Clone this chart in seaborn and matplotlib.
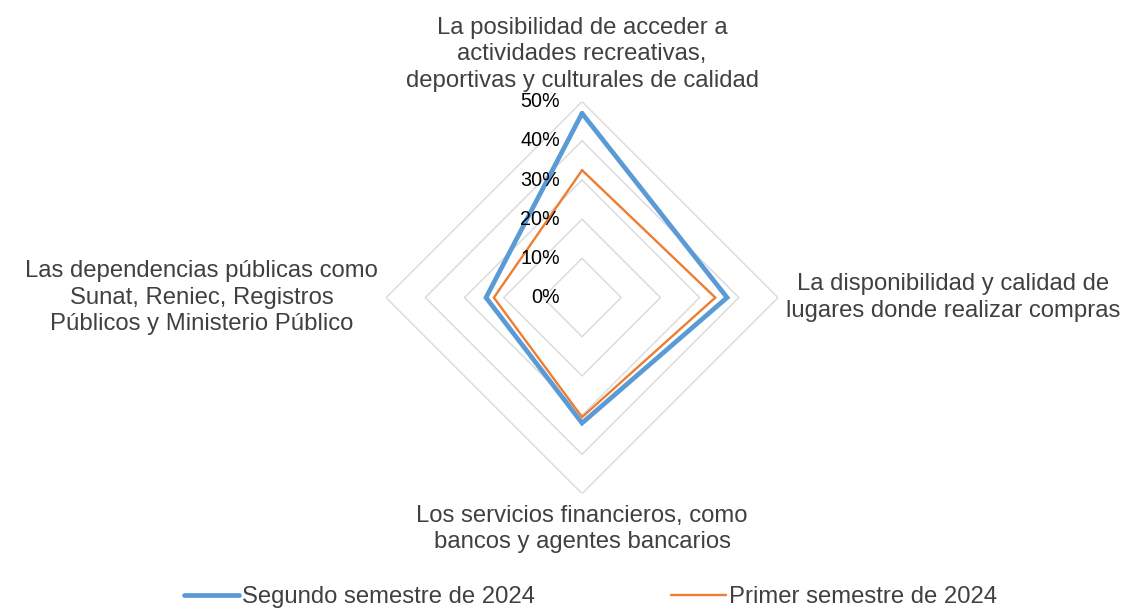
import numpy as np
import pandas as pd
import seaborn as sns
import matplotlib.pyplot as plt
from matplotlib.lines import Line2D
from matplotlib.transforms import offset_copy

categorias = [
    "La posibilidad de acceder a\nactividades recreativas,\ndeportivas y culturales de calidad",
    "La disponibilidad y calidad de\nlugares donde realizar compras",
    "Los servicios financieros, como\nbancos y agentes bancarios",
    "Las dependencias públicas como\nSunat, Reniec, Registros\nPúblicos y Ministerio Público",
]
series = ["Segundo semestre de 2024", "Primer semestre de 2024"]
segundo_2024 = [0.47, 0.37, 0.32, 0.245]
primer_2024 = [0.325, 0.34, 0.305, 0.225]
niveles = [0.0, 0.1, 0.2, 0.3, 0.4, 0.5]
etiquetas_niveles = ["0%", "10%", "20%", "30%", "40%", "50%"]

colores = {series[0]: "#5B9BD5", series[1]: "#ED7D31"}
grosores = {series[0]: 3.4, series[1]: 1.7}

sns.set_theme(style="white")
plt.rcParams['font.family'] = ['Liberation Sans', 'DejaVu Sans']

angulos = np.linspace(0, 2 * np.pi, len(categorias), endpoint=False)
ang_cerrado = np.append(angulos, angulos[0])

filas = []
for nombre, vals in zip(series, [segundo_2024, primer_2024]):
    cerrado = list(vals) + [vals[0]]
    for i, (t, v) in enumerate(zip(ang_cerrado, cerrado)):
        filas.append({"orden": i, "theta": t, "valor": v, "serie": nombre})
df = pd.DataFrame(filas)

fig = plt.figure(figsize=(11.46, 6.12), dpi=100)
ax = fig.add_axes([0.3369, 0.1935, 0.342, 0.6405], projection='polar')
ax.set_theta_zero_location('N')
ax.set_theta_direction(-1)
ax.set_ylim(0, 0.5)
ax.grid(False)
ax.spines['polar'].set_visible(False)
ax.set_xticks([])
ax.set_yticks([])
ax.set_facecolor('none')

# grid as straight polygons
for nv in niveles[1:]:
    ax.plot(ang_cerrado, [nv] * len(ang_cerrado), color='#D9D9D9', lw=1.0, zorder=1)

sns.lineplot(data=df, x='theta', y='valor', hue='serie', size='serie',
             sizes=grosores, palette=colores, sort=False, estimator=None,
             units='serie', legend=False, ax=ax, zorder=3)
ax.set_xlabel('')
ax.set_ylabel('')
for ln in ax.lines:
    ln.set_solid_joinstyle('miter')

# radial labels
tr_lbl = offset_copy(ax.transData, fig=fig, x=-22, y=0, units='dots')
for nv, et in zip(niveles, etiquetas_niveles):
    ax.text(0, nv, et, transform=tr_lbl, ha='right', va='center',
            fontsize=14.2, color='black', zorder=4)

# category labels
posiciones = [
    (0, 10, 'center', 'bottom'),
    (8, 0, 'left', 'center'),
    (0, -11, 'center', 'top'),
    (-8, 0, 'right', 'center'),
]
for t, texto, (dx, dy, ha, va) in zip(angulos, categorias, posiciones):
    tr = offset_copy(ax.transData, fig=fig, x=dx, y=dy, units='dots')
    ax.text(t, 0.5, texto, transform=tr, ha=ha, va=va, multialignment='center',
            fontsize=17.2, color='#404040', linespacing=1.26)

handles = [Line2D([], [], color=colores[s], lw=grosores[s]) for s in series]
fig.legend(handles, series, loc='center', bbox_to_anchor=(0.515, 0.024),
           ncol=2, frameon=False, fontsize=17.2, handlelength=2.3,
           handletextpad=0.12, columnspacing=5.7, labelcolor='#404040')

fig.savefig('out.png', dpi=100)
